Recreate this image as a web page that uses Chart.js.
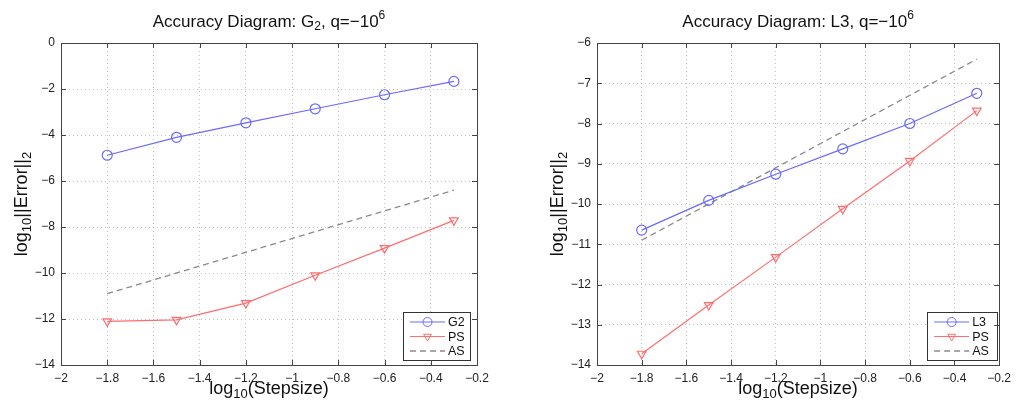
<!DOCTYPE html>
<html>
<head>
<meta charset="utf-8">
<script src="https://cdn.jsdelivr.net/npm/chart.js@4.4.0/dist/chart.umd.min.js"></script>
<style>
  html, body { margin: 0; padding: 0; background: #fff; }
  #wrap { position: relative; width: 1017px; height: 405px; }
  canvas { position: absolute; top: 0; }
</style>
</head>
<body>
<div id="wrap">
  <canvas id="leftChart" width="508" height="405" style="left:0"></canvas>
  <canvas id="rightChart" width="509" height="405" style="left:508px"></canvas>
</div>
<script>
// log10 of step sizes
var stepsLog = [-1.8, -1.5, -1.2, -0.9, -0.6, -0.3];

// left panel: G2
var g2Err = [-4.88, -4.1, -3.47, -2.86, -2.25, -1.67];
var psErrLeft = [-12.1, -12.04, -11.31, -10.1, -8.92, -7.71];

// right panel: L3
var l3Err = [-10.65, -9.91, -9.26, -8.63, -8.0, -7.25];
var psErrRight = [-13.72, -12.51, -11.32, -10.12, -8.93, -7.68];

// asymptotic reference line (end points only)
var asLog = [-1.8, -0.3];
var asErr = [-10.9, -6.4];

var xTicks = { min: -2, max: -0.2, step: 0.2 };
var yTicksLeft = { min: -14, max: 0, step: 2 };
var yTicksRight = { min: -14, max: -6, step: 1 };

var FONT = "'Liberation Sans', Arial, Helvetica, sans-serif";
var BLUE = "#6a6aff";
var RED = "#ff6e6e";
var GRAY = "#8a8a8a";

function pts(xs, ys) {
  return xs.map(function (x, i) { return { x: x, y: ys[i] }; });
}

// matlab style minus sign
function fmt(v) {
  var r = Math.round(v * 10) / 10;
  return r < 0 ? "\u2212" + Math.abs(r) : String(r);
}

// text with sub/superscripts, parts = [{t, sub|sup}]
function richWidth(ctx, parts, size) {
  var w = 0;
  parts.forEach(function (p) {
    ctx.font = ((p.sub || p.sup) ? Math.round(size * 0.7) : size) + "px " + FONT;
    w += ctx.measureText(p.t).width;
  });
  return w;
}
function drawRich(ctx, parts, cx, cy, size) {
  var w = richWidth(ctx, parts, size);
  var x = cx - w / 2;
  ctx.textBaseline = "middle";
  ctx.textAlign = "left";
  parts.forEach(function (p) {
    var s = (p.sub || p.sup) ? Math.round(size * 0.7) : size;
    var dy = p.sub ? size * 0.3 : (p.sup ? -size * 0.38 : 0);
    ctx.font = s + "px " + FONT;
    ctx.fillText(p.t, x, cy + dy);
    x += ctx.measureText(p.t).width;
  });
}

var framePlugin = {
  id: "frame",
  afterDraw: function (chart, args, opts) {
    var ctx = chart.ctx, a = chart.chartArea;
    var xs = chart.scales.x, ys = chart.scales.y;
    ctx.save();

    // legend box inside the axes, lower right
    var lw = opts.legendWidth, lh = 48;
    var lx = a.right - opts.legendRight - lw, ly = a.bottom - 5 - lh;
    ctx.fillStyle = "#fff";
    ctx.fillRect(lx, ly, lw, lh);
    ctx.strokeStyle = "#333";
    ctx.lineWidth = 1;
    ctx.strokeRect(Math.round(lx) + 0.5, Math.round(ly) + 0.5, lw, lh);
    chart.data.datasets.forEach(function (ds, i) {
      var yy = ly + 10 + i * 14.5;
      ctx.save();
      ctx.strokeStyle = ds.borderColor;
      ctx.lineWidth = ds.borderWidth;
      ctx.setLineDash(ds.borderDash || []);
      ctx.beginPath();
      ctx.moveTo(lx + 7, yy);
      ctx.lineTo(lx + 42, yy);
      ctx.stroke();
      ctx.restore();
      if (ds.pointRadius > 0) {
        ctx.strokeStyle = ds.borderColor;
        ctx.fillStyle = "rgba(0,0,0,0)";
        Chart.helpers.drawPoint(ctx, {
          pointStyle: ds.pointStyle, rotation: ds.pointRotation || 0,
          radius: 4.5, borderWidth: 1
        }, lx + 24.5, yy);
      }
      ctx.fillStyle = "#111";
      ctx.font = "12.5px " + FONT;
      ctx.textAlign = "left";
      ctx.textBaseline = "middle";
      ctx.fillText(ds.label, lx + 45, yy + 1);
    });

    // box + inward ticks
    ctx.strokeStyle = "#444";
    ctx.lineWidth = 1;
    ctx.setLineDash([]);
    ctx.beginPath();
    xs.ticks.forEach(function (t) {
      var px = Math.round(xs.getPixelForValue(t.value)) + 0.5;
      ctx.moveTo(px, a.bottom); ctx.lineTo(px, a.bottom - 5);
      ctx.moveTo(px, a.top); ctx.lineTo(px, a.top + 5);
    });
    ys.ticks.forEach(function (t) {
      var py = Math.round(ys.getPixelForValue(t.value)) + 0.5;
      ctx.moveTo(a.left, py); ctx.lineTo(a.left + 5, py);
      ctx.moveTo(a.right, py); ctx.lineTo(a.right - 5, py);
    });
    ctx.stroke();
    ctx.strokeRect(Math.round(a.left) + 0.5, Math.round(a.top) + 0.5,
      Math.round(a.right - a.left), Math.round(a.bottom - a.top));

    // titles
    ctx.fillStyle = "#111";
    var cx = (a.left + a.right) / 2;
    drawRich(ctx, opts.title, cx, 22, 17);
    drawRich(ctx, [{ t: "log" }, { t: "10", sub: 1 }, { t: "(Stepsize)" }], cx, 389, 18);
    ctx.save();
    ctx.translate(a.left - 39, (a.top + a.bottom) / 2);
    ctx.rotate(-Math.PI / 2);
    drawRich(ctx, [{ t: "log" }, { t: "10", sub: 1 }, { t: "||Error||" }, { t: "2", sub: 1 }], 0, 0, 18);
    ctx.restore();

    ctx.restore();
  }
};

function makeChart(id, name, mainErr, psErr, yt, yWidth, padRight, title, legendRight, legendWidth) {
  return new Chart(document.getElementById(id), {
    type: "line",
    data: {
      datasets: [
        {
          label: name,
          data: pts(stepsLog, mainErr),
          borderColor: BLUE,
          borderWidth: 1.2,
          pointStyle: "circle",
          pointRadius: 5,
          pointBorderWidth: 1.2,
          pointBackgroundColor: "rgba(0,0,0,0)",
          fill: false
        },
        {
          label: "PS",
          data: pts(stepsLog, psErr),
          borderColor: RED,
          borderWidth: 1.2,
          pointStyle: "triangle",
          pointRotation: 180,
          pointRadius: 5,
          pointBorderWidth: 1.2,
          pointBackgroundColor: "rgba(0,0,0,0)",
          fill: false
        },
        {
          label: "AS",
          data: pts(asLog, asErr),
          borderColor: GRAY,
          borderWidth: 1.3,
          borderDash: [6, 4],
          pointRadius: 0,
          fill: false
        }
      ]
    },
    options: {
      responsive: false,
      animation: false,
      devicePixelRatio: 1,
      layout: { padding: { left: 0, top: 43, right: padRight, bottom: 0 } },
      plugins: {
        legend: { display: false },
        tooltip: { enabled: false },
        frame: { title: title, legendRight: legendRight, legendWidth: legendWidth }
      },
      scales: {
        x: {
          type: "linear",
          min: xTicks.min,
          max: xTicks.max,
          afterFit: function (s) { s.height = 40; },
          ticks: {
            stepSize: xTicks.step,
            callback: fmt,
            color: "#222",
            padding: 6,
            maxRotation: 0,
            font: { family: FONT, size: 12 }
          },
          grid: { color: "#c2c2c2", drawTicks: false, lineWidth: 1 },
          border: { display: false, dash: [1, 3] }
        },
        y: {
          type: "linear",
          min: yt.min,
          max: yt.max,
          afterFit: function (s) { s.width = yWidth; },
          ticks: {
            stepSize: yt.step,
            callback: fmt,
            color: "#222",
            padding: 6,
            font: { family: FONT, size: 12 }
          },
          grid: { color: "#c2c2c2", drawTicks: false, lineWidth: 1 },
          border: { display: false, dash: [1, 3] }
        }
      }
    },
    plugins: [framePlugin]
  });
}

makeChart("leftChart", "G2", g2Err, psErrLeft, yTicksLeft, 61, 31,
  [{ t: "Accuracy Diagram: G" }, { t: "2", sub: 1 }, { t: ", q=\u221210" }, { t: "6", sup: 1 }], 7, 67);

makeChart("rightChart", "L3", l3Err, psErrRight, yTicksRight, 89, 10,
  [{ t: "Accuracy Diagram: L3, q=\u221210" }, { t: "6", sup: 1 }], 2, 70);
</script>
</body>
</html>
